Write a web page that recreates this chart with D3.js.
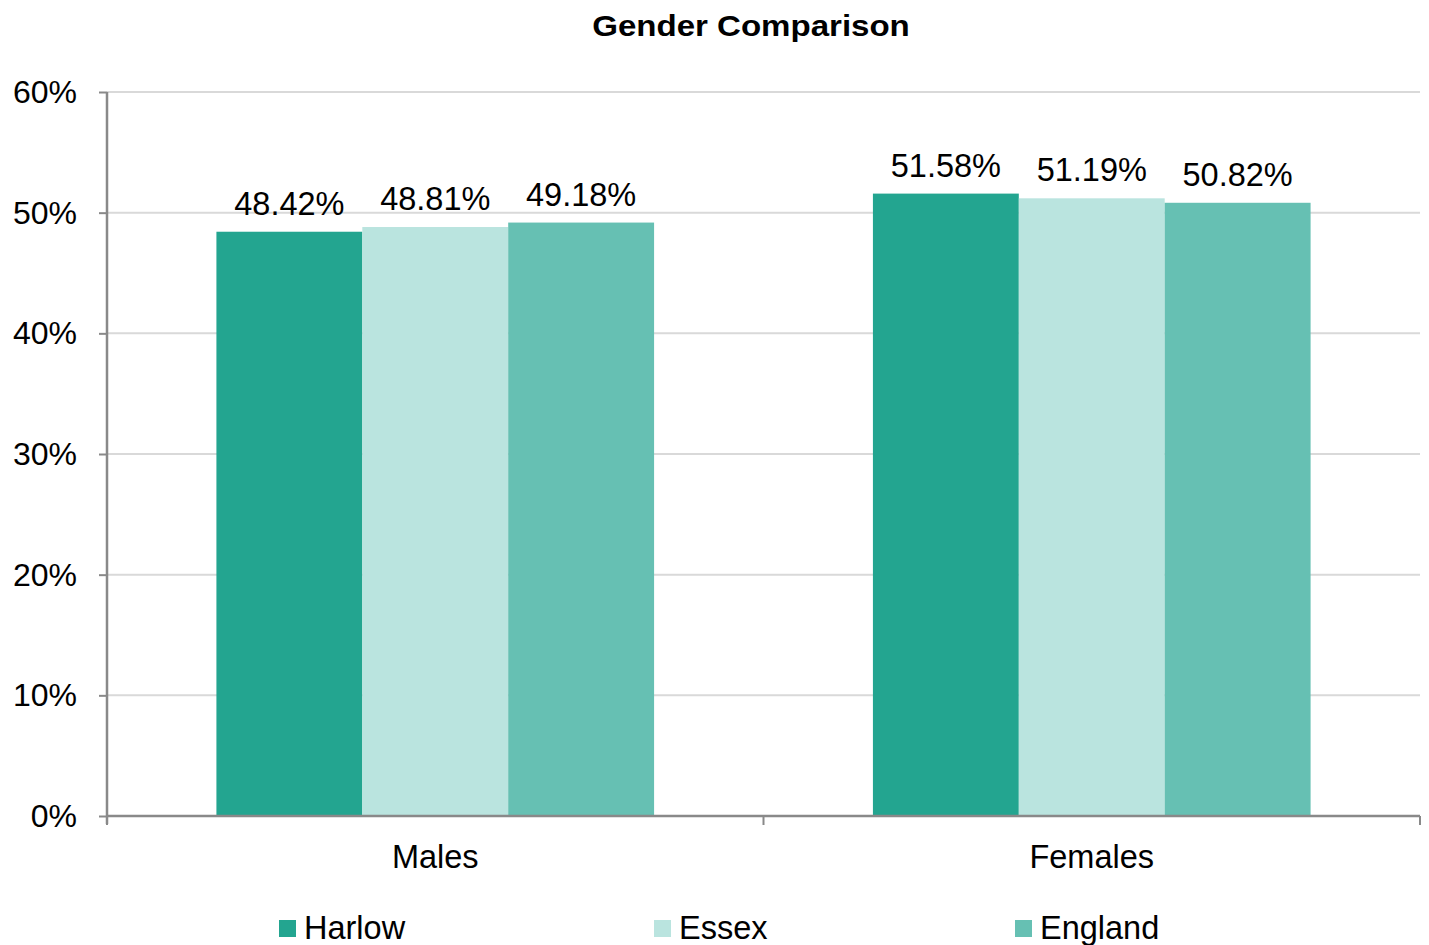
<!DOCTYPE html>
<html><head><meta charset="utf-8">
<script src="https://cdn.jsdelivr.net/npm/d3@7"></script>
<style>body{margin:0;background:#fff}svg{display:block}text{font-family:"Liberation Sans",Arial,sans-serif;fill:#000}</style>
</head><body><svg id="c" width="1429" height="945"></svg>
<script>
const categories = ["Males", "Females"];
const seriesNames = ["Harlow", "Essex", "England"];
const harlow = [48.42, 51.58];
const essex = [48.81, 51.19];
const england = [49.18, 50.82];
const yTicks = [0, 10, 20, 30, 40, 50, 60];
const colors = ["#23a590", "#bae4df", "#66c0b3"];
const seriesValues = [harlow, essex, england];

const svg = d3.select("#c");
const L = 107, R = 1420, T = 92, B = 816;
const x0 = d3.scaleBand().domain(categories).range([L, R]).paddingInner(0).paddingOuter(0);
const x1 = d3.scaleBand().domain(seriesNames).range([x0.bandwidth()*0.75/4.5, x0.bandwidth()*(1-0.75/4.5)]).padding(0);
const y = d3.scaleLinear().domain([0, 60]).range([B, T]);

function stext(g, x, yy, txt, anchor, size, sx, weight) {
  return g.append("text").attr("transform", `translate(${x},${yy}) scale(${sx},1)`)
    .attr("text-anchor", anchor).attr("font-size", size)
    .attr("font-weight", weight || "normal").text(txt);
}

// gridlines
svg.append("g").selectAll("line").data(yTicks.filter(d => d > 0)).join("line")
  .attr("x1", L).attr("x2", R).attr("y1", d => y(d)).attr("y2", d => y(d))
  .attr("stroke", "#d9d9d9").attr("stroke-width", 2);

// bars
categories.forEach((c, ci) => {
  seriesNames.forEach((s, si) => {
    const v = seriesValues[si][ci];
    svg.append("rect").attr("x", x0(c) + x1(s)).attr("y", y(v))
      .attr("width", x1.bandwidth()).attr("height", B - y(v)).attr("fill", colors[si]);
    stext(svg, x0(c) + x1(s) + x1.bandwidth()/2, y(v) - 17, v.toFixed(2) + "%", "middle", 32.5, 1);
  });
});

// axes
const axisCol = "#898989";
const yAxis = svg.append("g").attr("transform", `translate(${L},0)`)
  .call(d3.axisLeft(y).tickValues(yTicks).tickSize(8).tickFormat(""));
yAxis.select(".domain").remove();
yAxis.selectAll("line").attr("stroke", axisCol).attr("stroke-width", 2);
svg.append("line").attr("x1", L).attr("x2", L).attr("y1", T).attr("y2", B+8).attr("stroke", axisCol).attr("stroke-width", 2.5);
yTicks.forEach(t => stext(svg, 77, y(t) + 11, t + "%", "end", 32, 1));

svg.append("line").attr("x1", L).attr("x2", R).attr("y1", B).attr("y2", B).attr("stroke", axisCol).attr("stroke-width", 2.5);
const bounds = [L, x0("Females"), R];
bounds.forEach(b => svg.append("line").attr("x1", b).attr("x2", b).attr("y1", B).attr("y2", B+9).attr("stroke", axisCol).attr("stroke-width", 2));
categories.forEach(c => stext(svg, x0(c) + x0.bandwidth()/2, 868, c, "middle", 32.5, 1));

// title
stext(svg, 751, 35.5, "Gender Comparison", "middle", 29, 1.14, "bold");

// legend
const legX = [279, 654, 1015];
seriesNames.forEach((s, i) => {
  svg.append("rect").attr("x", legX[i]).attr("y", 920).attr("width", 17).attr("height", 17).attr("fill", colors[i]);
  stext(svg, legX[i] + 25, 938.5, s, "start", 32.5, 1);
});
</script></body></html>
